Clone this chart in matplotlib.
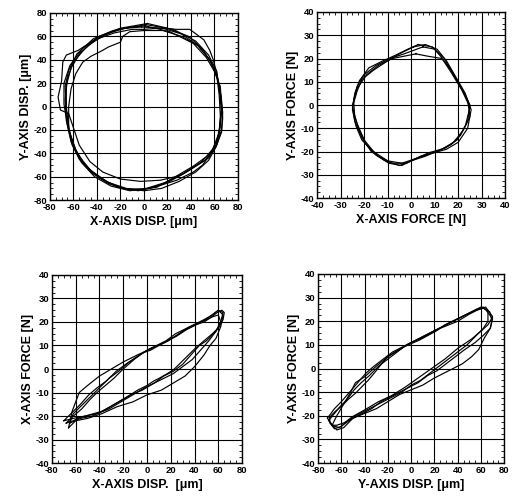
import matplotlib
matplotlib.use("Agg")
import matplotlib.pyplot as plt
from matplotlib.ticker import MultipleLocator

plt.rcParams['font.family'] = ['Liberation Sans', 'DejaVu Sans']
plt.rcParams['axes.unicode_minus'] = False

# --- top left: X disp vs Y disp (um), several revolutions ---
tl_x1 = [1, 22, 42, 53, 60, 65, 66, 65, 62, 53, 42, 25, 11, -3, -18, -32, -46, -57, -63, -66, -67, -64, -57, -43, -26, -9, 1]
tl_y1 = [69, 64, 54, 42, 30, 17, 0, -17, -32, -43, -51, -61, -69, -71, -70, -64, -54, -40, -23, -3, 17, 31, 45, 58, 65, 68, 69]
tl_x2 = [3, 20, 38, 50, 58, 63, 66, 67, 66, 61, 52, 38, 22, 5, -12, -28, -42, -53, -61, -65, -68, -68, -63, -52, -38, -20, 3]
tl_y2 = [71, 67, 60, 49, 36, 22, 6, -10, -22, -35, -46, -55, -64, -70, -72, -68, -60, -48, -33, -16, 2, 20, 35, 50, 60, 67, 71]
tl_x3 = [0, 14, 28, 39, 51, 56, 59, 62, 65, 67, 66, 62, 55, 42, 31, 14, -3, -20, -35, -46, -55, -60, -64, -71, -73, -70, -69, -66, -56, -42, -25, -10, 0]
tl_y3 = [66, 67, 66, 66, 57, 48, 40, 28, 12, -5, -20, -33, -44, -52, -59, -63, -64, -62, -56, -47, -33, -18, -6, -3, 8, 22, 38, 44, 48, 57, 63, 66, 66]
tl_x4 = [0, -12, -18, -20, -30, -37, -45, -52, -58, -62, -64, -64, -60, -54, -44, -30, -15, 0, 15, 30, 44, 55, 61, 64, 66, 65, 62, 56, 46, 32, 16, 0]
tl_y4 = [65, 64, 60, 55, 51, 47, 43, 38, 28, 15, 0, -18, -33, -45, -56, -65, -70, -72, -70, -64, -56, -46, -35, -20, -3, 14, 27, 40, 52, 60, 65, 65]
tl_x5 = [-2, 16, 32, 46, 56, 62, 64, 65, 64, 58, 48, 34, 18, 2, -14, -30, -44, -55, -62, -66, -67, -65, -60, -48, -32, -16, -2]
tl_y5 = [68, 67, 62, 52, 40, 26, 10, -8, -24, -38, -48, -57, -65, -70, -71, -66, -57, -45, -30, -12, 6, 24, 38, 52, 62, 67, 68]
tl_x6 = [2, 25, 44, 55, 62, 64, 66, 64, 58, 50, 42, 28, 12, -5, -22, -38, -50, -58, -64, -66, -66, -62, -54, -40, -22, 2]
tl_y6 = [70, 66, 56, 44, 30, 15, -3, -22, -38, -50, -56, -63, -68, -72, -69, -61, -50, -37, -20, 0, 18, 33, 46, 58, 66, 70]

# --- top right: X force vs Y force (N) ---
tr_x1 = [3, 9, 12.5, 17, 21.5, 25, 23, 19.5, 14.5, 7.5, 2, -4, -9.5, -15, -21, -23.5, -25, -24, -22, -18, -12, -6.5, -1.5, 3]
tr_y1 = [26, 25, 21, 14, 6.5, -1, -9, -15, -18.5, -20.5, -23, -26, -25, -21.5, -15, -9, -2, 5, 10.5, 16, 19, 21.5, 24, 26]
tr_x2 = [5, 10, 14, 18, 22, 25, 24, 21, 17, 11, 4, -2, -8, -14, -19, -22, -24, -24.5, -23, -20, -15, -9, -3, 5]
tr_y2 = [25, 24, 20, 13, 6, 0, -7, -13, -17, -20, -22, -25, -25, -22, -17, -11, -5, 2, 8, 13, 17, 20, 22, 25]
tr_x3 = [2, 7, 13, 17, 21, 24, 25, 22, 18, 13, 6, 0, -5, -11, -17, -21, -24, -25, -23, -19, -14, -8, -3, 2]
tr_y3 = [22, 21, 20, 15, 8, 2, -5, -11, -16, -19, -22, -24, -26, -24, -20, -14, -7, 0, 7, 13, 17, 20, 21, 22]
tr_x4 = [1, 6, 11, 15, 19, 23, 25.5, 24, 20, 15, 8, 2, -4, -10, -16, -20, -23, -25, -23, -21, -16, -10, -5, 1]
tr_y4 = [25, 26, 24, 19, 12, 5, -2, -10, -16, -19, -21, -23, -25, -24, -20, -15, -8, -1, 6, 11, 15, 19, 22, 25]

# --- bottom left: X disp (um) vs X force (N) ---
bl_x1 = [-68, -62, -55, -48, -42, -35, -28, -20, -11, -3, 3, 10, 17, 25, 34, 42, 48, 54, 59, 63, 65, 64, 61,
         55, 48, 41, 35, 29, 23, 17, 10, 6, 0, -8, -17, -24, -31, -38, -45, -52, -58, -62, -68]
bl_y1 = [-23, -20, -17, -13, -10, -7, -4, 0, 4, 7, 8, 10, 12, 14, 17, 19, 20, 22, 24, 25, 24, 21, 18,
         15, 12, 9, 6, 3, 0, -2, -4, -5, -7, -9, -12, -14, -16, -18, -19, -20, -21, -22, -23]
bl_x2 = [-70, -64, -56, -49, -42, -34, -26, -18, -9, 0, 8, 16, 24, 32, 40, 48, 55, 60, 64, 62, 58, 50,
         44, 37, 30, 22, 14, 6, -2, -12, -22, -32, -42, -52, -62, -70]
bl_y2 = [-22, -19, -15, -11, -8, -5, -1, 2, 5, 8, 10, 12, 15, 17, 19, 21, 23, 25, 24, 20, 16, 12,
         10, 6, 2, -1, -3, -6, -8, -11, -14, -17, -19, -20, -21, -22]
bl_x3 = [-66, -63, -60, -57, -50, -40, -30, -20, -8, 5, 18, 30, 42, 52, 60, 64, 62, 58, 53, 48,
         40, 32, 22, 12, 0, -12, -25, -38, -50, -60, -66]
bl_y3 = [-25, -18, -14, -10, -7, -3, 0, 3, 6, 9, 12, 16, 19, 22, 25, 23, 18, 13, 10, 6,
         1, -3, -6, -9, -11, -14, -16, -19, -21, -22, -25]
bl_x4 = [-65, -62, -58, -52, -46, -40, -32, -24, -15, -6, 4, 14, 24, 36, 46, 54, 60, 62, 58, 52, 45,
         38, 30, 22, 14, 6, -4, -14, -24, -34, -46, -56, -65]
bl_y4 = [-23, -19, -17, -14, -11, -8, -4, -1, 3, 6, 9, 11, 14, 18, 20, 22, 23, 20, 16, 12, 8,
         4, 1, -2, -4, -6, -9, -11, -14, -17, -20, -21, -23]

# --- bottom right: Y disp (um) vs Y force (N) ---
br_x1 = [-70, -65, -60, -54, -48, -42, -37, -31, -25.5, -20, -14, -7, 0, 7, 14.5, 22, 29, 37.5, 46, 55, 62, 67.5, 69, 66,
         60.5, 52, 40, 29, 17.5, 6, -5.5, -17, -28, -40, -51, -56, -60, -66, -70, -70]
br_y1 = [-20.5, -18, -16, -13, -10.5, -7.5, -5, -1.5, 2, 5, 7, 9, 10.5, 12, 14, 16, 18.5, 20.5, 22.5, 24.5, 25.5, 24, 21, 18.5,
         16, 12.5, 8.5, 4, 0, -4, -8, -11.5, -14, -17.5, -20.5, -22.5, -24.5, -25.5, -23, -20.5]
br_x2 = [-72, -66, -60, -53, -46, -39, -32, -24, -16, -8, 0, 8, 16, 24, 32, 40, 48, 56, 62, 66, 66, 62, 56, 48,
         40, 32, 24, 16, 8, 0, -8, -16, -24, -32, -40, -48, -56, -62, -68, -72]
br_y2 = [-21, -17, -14, -10, -6, -2, 1, 4, 7, 9, 11, 13, 15, 17, 19, 21, 23, 25, 26, 24, 20, 17, 14, 10,
         7, 4, 1, -2, -5, -7, -10, -12, -14, -16, -18, -20, -23, -25, -24, -21]
br_x3 = [-68, -64, -58, -52, -48, -40, -30, -20, -10, 0, 10, 20, 30, 40, 50, 58, 64, 70, 68, 63, 58, 52,
         44, 36, 28, 20, 10, 0, -10, -20, -30, -40, -50, -58, -64, -68]
br_y3 = [-24, -20, -15, -10, -6, -3.5, 1, 5, 8, 11, 13, 16, 18, 20, 23, 25, 26, 22, 17, 13, 8, 5,
         2, 0, -2, -4, -7, -9, -11, -14, -17, -19, -21, -23, -24, -24]
br_x4 = [-71, -66, -61, -55, -49, -43, -36, -28, -20, -12, -4, 4, 12, 20, 28, 36, 44, 52, 60, 64, 70, 68, 62, 55,
         46, 38, 30, 22, 14, 6, -2, -10, -18, -26, -34, -42, -50, -58, -64, -71]
br_y4 = [-22, -19, -16, -13, -9, -6, -3, 1, 4, 7, 10, 12, 14, 16, 18, 20, 22, 24, 26, 25, 21, 17, 14, 11,
         8, 5, 2, -1, -3, -6, -8, -10, -12, -14, -17, -19, -21, -25, -26, -22]

fig = plt.figure(figsize=(5.14, 4.99), dpi=100)

panels = [
    ([0.097, 0.599, 0.366, 0.375],
     [(tl_x1, tl_y1), (tl_x2, tl_y2), (tl_x3, tl_y3), (tl_x4, tl_y4), (tl_x5, tl_y5), (tl_x6, tl_y6)],
     80, 80, "X-AXIS DISP. [\u03bcm]", "Y-AXIS DISP. [\u03bcm]"),
    ([0.617, 0.603, 0.366, 0.373],
     [(tr_x1, tr_y1), (tr_x2, tr_y2), (tr_x3, tr_y3), (tr_x4, tr_y4)],
     40, 40, "X-AXIS FORCE [N]", "Y-AXIS FORCE [N]"),
    ([0.101, 0.072, 0.370, 0.377],
     [(bl_x1, bl_y1), (bl_x2, bl_y2), (bl_x3, bl_y3), (bl_x4, bl_y4)],
     80, 40, "X-AXIS DISP.  [\u03bcm]", "X-AXIS FORCE [N]"),
    ([0.619, 0.072, 0.362, 0.379],
     [(br_x1, br_y1), (br_x2, br_y2), (br_x3, br_y3), (br_x4, br_y4)],
     80, 40, "Y-AXIS DISP. [\u03bcm]", "Y-AXIS FORCE [N]"),
]

for rect, loops, xlim, ylim, xlab, ylab in panels:
    ax = fig.add_axes(rect)
    for xs, ys in loops:
        ax.plot(xs, ys, color="black", lw=0.85, solid_joinstyle="round")
    ax.set_xlim(-xlim, xlim)
    ax.set_ylim(-ylim, ylim)
    ax.xaxis.set_major_locator(MultipleLocator(xlim / 4))
    ax.yaxis.set_major_locator(MultipleLocator(ylim / 4))
    ax.xaxis.set_minor_locator(MultipleLocator(xlim / 16))
    ax.yaxis.set_minor_locator(MultipleLocator(ylim / 16))
    ax.grid(True, which="major", color="black", lw=0.8)
    ax.tick_params(which="both", direction="in", labelsize=6.8, pad=2, top=True, right=True)
    ax.tick_params(which="major", length=0)
    ax.tick_params(which="minor", length=2, width=0.6)
    for lbl in ax.get_xticklabels() + ax.get_yticklabels():
        lbl.set_fontweight("bold")
    for s in ax.spines.values():
        s.set_linewidth(1.0)
    ax.set_xlabel(xlab, fontsize=9, fontweight="bold", labelpad=3)
    ax.set_ylabel(ylab, fontsize=9, fontweight="bold", labelpad=1)

fig.savefig("out.png", dpi=100)
